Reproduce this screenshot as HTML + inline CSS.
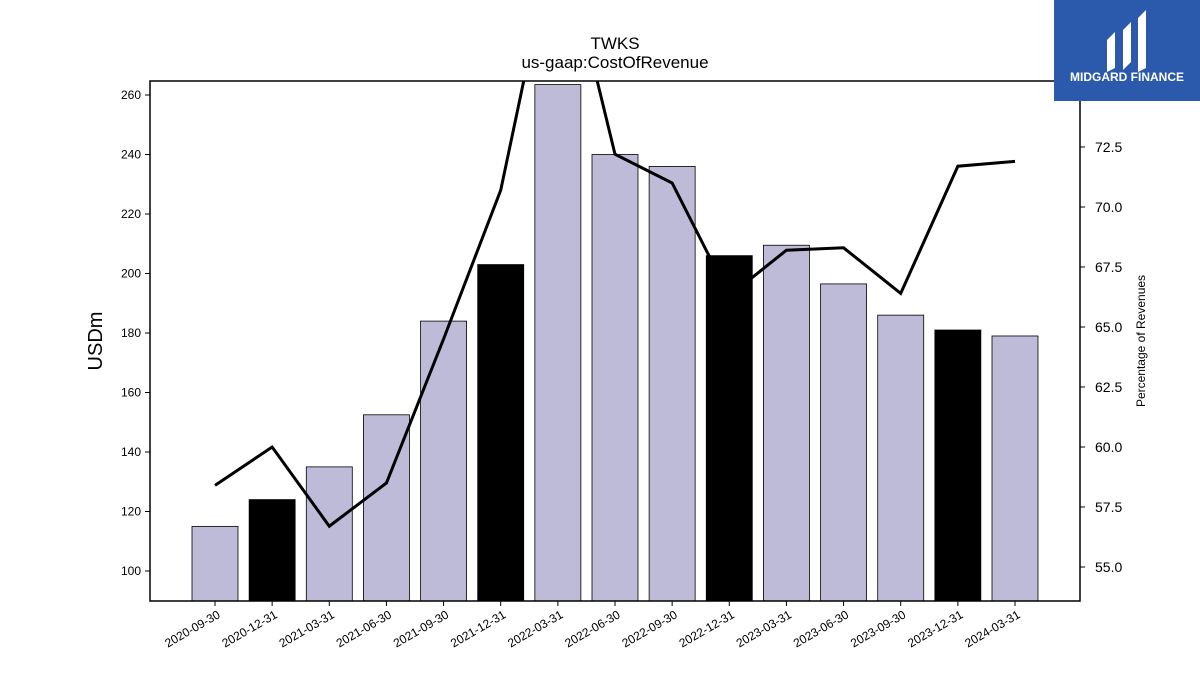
<!DOCTYPE html>
<html><head><meta charset="utf-8"><style>
body{margin:0;background:#fff;font-family:"Liberation Sans",sans-serif}
svg text{font-family:"Liberation Sans",sans-serif}
</style></head><body>
<svg id="c" width="1200" height="675" xmlns="http://www.w3.org/2000/svg">
<rect width="1200" height="675" fill="#fff"/>
<text x="615" y="49" text-anchor="middle" font-size="17">TWKS</text>
<text x="615" y="68" text-anchor="middle" font-size="17">us-gaap:CostOfRevenue</text>
<text transform="translate(102,341) rotate(-90)" text-anchor="middle" font-size="20">USDm</text>
<text transform="translate(1145,341) rotate(-90)" text-anchor="middle" font-size="12">Percentage of Revenues</text>
<g id="bars"></g><g id="line"></g><g id="axes"></g>
<rect x="150" y="81" width="930" height="520" fill="none" stroke="#000" stroke-width="1.5"/>
<g>
<rect x="1054" y="0" width="146" height="101" fill="#2b5aad"/>
<path d="M1107 40 l8 -8 v36 l-8 4z M1123 30 l8 -8 v40 l-8 8z M1138 18 l8 -8 v58 l-8 4z" fill="#fff"/>
<text x="1127" y="81" text-anchor="middle" font-size="12" font-weight="bold" fill="#fff">MIDGARD FINANCE</text>
</g>
</svg>
<script>
const categories=["2020-09-30","2020-12-31","2021-03-31","2021-06-30","2021-09-30","2021-12-31","2022-03-31","2022-06-30","2022-09-30","2022-12-31","2023-03-31","2023-06-30","2023-09-30","2023-12-31","2024-03-31"];
const costValues=[115,124,135,152.5,184,203,263.5,240,236,206,209.5,196.5,186,181,179];
const pctValues=[58.4,60.0,56.7,58.5,64.5,70.7,82.0,72.2,71.0,66.3,68.2,68.3,66.4,71.7,71.9];
const leftTicks=[100,120,140,160,180,200,220,240,260];
const rightTicks=[55.0,57.5,60.0,62.5,65.0,67.5,70.0,72.5];
const NS="http://www.w3.org/2000/svg";
const X0=150,X1=1080,Y0=81,Y1=601;
const xPos=i=>215+i*(1015-215)/(categories.length-1);
const yL=v=>571-(v-100)*(476/160);
const yR=v=>567-(v-55)*24;
function mk(t,a,p){const e=document.createElementNS(NS,t);for(const k in a)e.setAttribute(k,a[k]);p.appendChild(e);return e;}
const bars=document.getElementById('bars'),line=document.getElementById('line'),axes=document.getElementById('axes');
categories.forEach((c,i)=>{
  const top=Math.max(yL(costValues[i]),Y0);
  const black=c.endsWith('12-31');
  const r=mk('rect',{x:xPos(i)-23,y:top,width:46,height:Y1-top,fill:black?'#000':'#bebbd9',stroke:'#000','stroke-width':0.8},bars);
  
  
  mk('line',{x1:xPos(i),x2:xPos(i),y1:Y1,y2:Y1+5,stroke:'#000'},axes);
  const t=mk('text',{x:0,y:0,'font-size':12,'text-anchor':'end',transform:`translate(${xPos(i)+6},${Y1+16}) rotate(-30)`},axes);
  t.textContent=c;
  
  
});
const cp=mk('clipPath',{id:'clip'},line);mk('rect',{x:X0,y:Y0,width:X1-X0,height:Y1-Y0},cp);
const pl=mk('polyline',{points:pctValues.map((v,i)=>xPos(i)+','+yR(v)).join(' '),fill:'none',stroke:'#000','stroke-width':3,'clip-path':'url(#clip)'},line);


leftTicks.forEach(v=>{
  mk('line',{x1:X0-5,x2:X0,y1:yL(v),y2:yL(v),stroke:'#000'},axes);
  const t=mk('text',{x:X0-9,y:yL(v)+4,'font-size':12,'text-anchor':'end'},axes);t.textContent=v;
  
  
});
rightTicks.forEach(v=>{
  mk('line',{x1:X1,x2:X1+5,y1:yR(v),y2:yR(v),stroke:'#000'},axes);
  const t=mk('text',{x:X1+15,y:yR(v)+5,'font-size':14},axes);t.textContent=v.toFixed(1);
  
  
});
</script>
</body></html>
